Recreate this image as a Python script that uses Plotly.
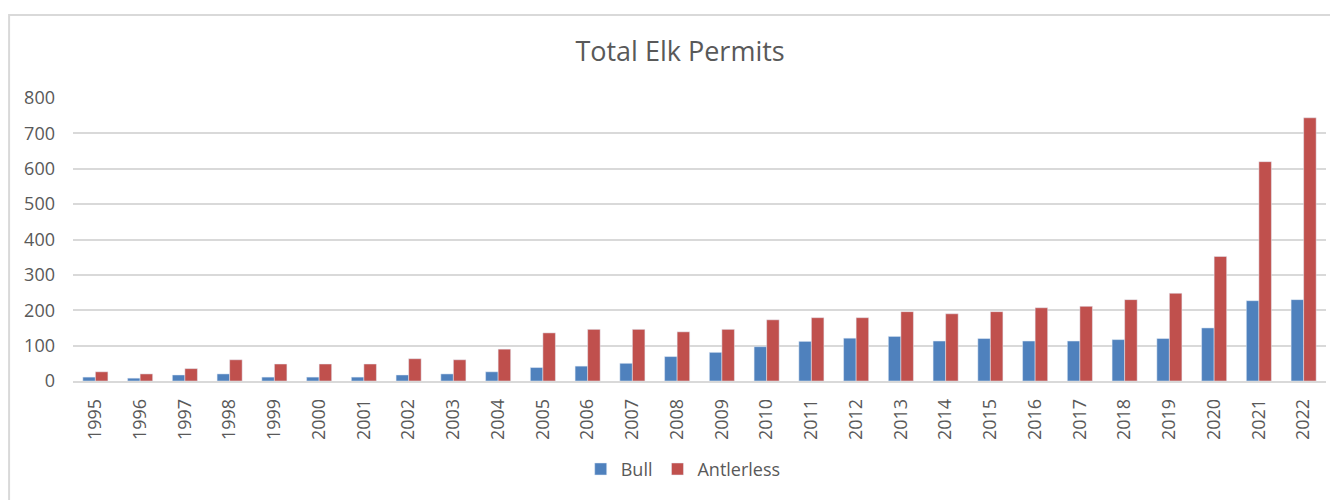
import plotly.graph_objects as go

# Total Elk Permits
years = [str(y) for y in range(1995, 2023)]
bull = [11, 8, 17, 20, 11, 11, 11, 17, 20, 26, 38, 42, 50, 69, 81, 97,
        112, 121, 126, 113, 120, 113, 113, 117, 120, 150, 227, 230]
antlerless = [26, 20, 35, 60, 48, 48, 48, 63, 60, 90, 136, 146, 146, 139, 146, 173,
              179, 179, 196, 190, 196, 207, 211, 230, 248, 352, 620, 744]

grey_txt = "#595959"
grid = "#D9D9D9"

fig = go.Figure()
fig.add_trace(go.Bar(name="Bull", x=years, y=bull, marker_color="#4F81BD"))
fig.add_trace(go.Bar(name="Antlerless", x=years, y=antlerless, marker_color="#C0504D"))

# page body adds 8px offset, so the figure is a bit smaller than the window
fig.update_layout(
    width=1330, height=492,
    margin=dict(l=65, r=12, t=90, b=113),
    paper_bgcolor="white", plot_bgcolor="white",
    font=dict(family="Open Sans", color=grey_txt, size=18),
    barmode="group", bargap=0.44, bargroupgap=0,
    title=dict(text="Total Elk Permits", x=0.5053, xanchor="center",
               y=0.9106, yanchor="middle", font=dict(size=27, color=grey_txt)),
    legend=dict(orientation="h", x=0.487, xanchor="center", y=-0.312, yanchor="middle",
                font=dict(size=18), itemwidth=30, tracegroupgap=0),
    showlegend=True,
)
fig.update_yaxes(range=[0, 800], dtick=100, showgrid=True, gridcolor=grid, gridwidth=1.5,
                 zeroline=False, showline=False, ticklabelstandoff=17)
fig.update_xaxes(tickangle=-90, showline=True, linecolor=grid, linewidth=1.5,
                 ticklabelstandoff=9)

# outer chart border
fig.add_shape(type="rect", xref="paper", yref="paper", x0=-0.051, x1=1.05, y0=-0.5, y1=1.293,
              line=dict(color=grid, width=2), fillcolor="rgba(0,0,0,0)", layer="below")

fig.write_html("out.html")
